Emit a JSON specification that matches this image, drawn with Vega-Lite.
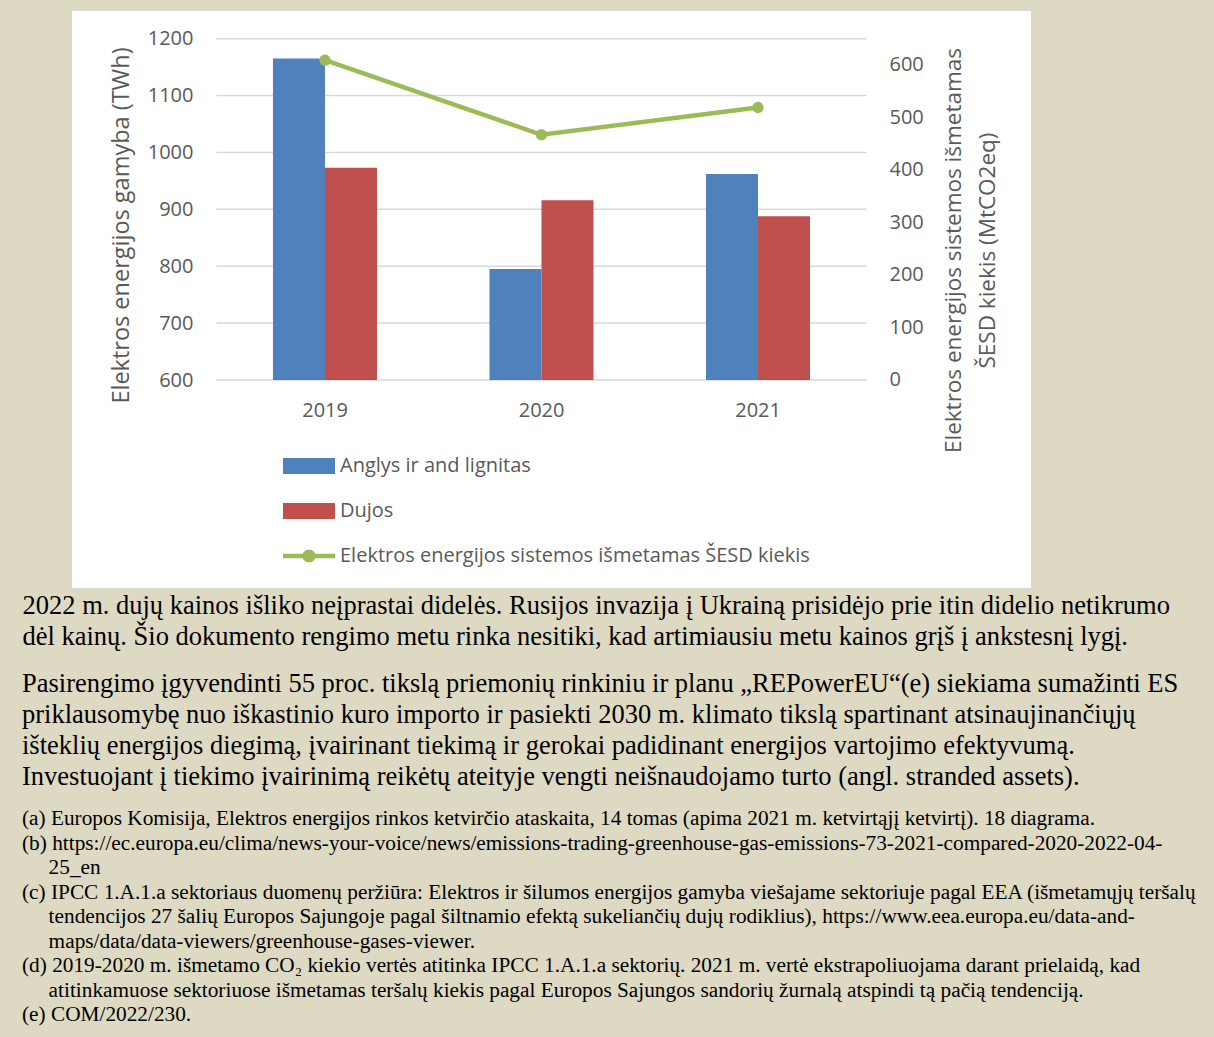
{
  "$schema": "https://vega.github.io/schema/vega-lite/v6.json",
  "width": 960,
  "height": 578,
  "autosize": {"type": "none"},
  "padding": {"left": 71, "top": 10, "right": 183, "bottom": 449},
  "background": "#DDD9C3",
  "config": {
    "view": {"fill": "white", "stroke": "#D9D9D9", "strokeWidth": 1},
    "font": "Open Sans"
  },
  "datasets": {
    "generation": [
      {"year": "2019", "series": "Anglys ir and lignitas", "value": 1165},
      {"year": "2019", "series": "Dujos", "value": 973},
      {"year": "2020", "series": "Anglys ir and lignitas", "value": 795},
      {"year": "2020", "series": "Dujos", "value": 916},
      {"year": "2021", "series": "Anglys ir and lignitas", "value": 962},
      {"year": "2021", "series": "Dujos", "value": 888}
    ],
    "emissions": [
      {"year": "2019", "emissions": 609},
      {"year": "2020", "emissions": 467},
      {"year": "2021", "emissions": 519}
    ],
    "gridlines": [
      {"v": 600}, {"v": 700}, {"v": 800}, {"v": 900}, {"v": 1000}, {"v": 1100}, {"v": 1200}
    ]
  },
  "title": {
    "text": [
      "Pasirengimo įgyvendinti 55 proc. tikslą priemonių rinkiniu ir planu „REPowerEU“(e) siekiama sumažinti ES",
      "priklausomybę nuo iškastinio kuro importo ir pasiekti 2030 m. klimato tikslą spartinant atsinaujinančiųjų",
      "išteklių energijos diegimą, įvairinant tiekimą ir gerokai padidinant energijos vartojimo efektyvumą.",
      "Investuojant į tiekimo įvairinimą reikėtų ateityje vengti neišnaudojamo turto (angl. stranded assets)."
    ],
    "orient": "bottom",
    "anchor": "start",
    "frame": "group",
    "dx": -49,
    "offset": 21,
    "font": "Liberation Serif",
    "fontSize": 26.5,
    "fontWeight": "normal",
    "color": "#000000",
    "lineHeight": 31,
    "subtitle": [
      "(a) Europos Komisija, Elektros energijos rinkos ketvirčio ataskaita, 14 tomas (apima 2021 m. ketvirtąjį ketvirtį). 18 diagrama.",
      "(b) https://ec.europa.eu/clima/news-your-voice/news/emissions-trading-greenhouse-gas-emissions-73-2021-compared-2020-2022-04-",
      "\u200c\u00a0\u00a0\u00a0\u00a0\u00a025_en",
      "(c) IPCC 1.A.1.a sektoriaus duomenų peržiūra: Elektros ir šilumos energijos gamyba viešajame sektoriuje pagal EEA (išmetamųjų teršalų",
      "\u200c\u00a0\u00a0\u00a0\u00a0\u00a0tendencijos 27 šalių Europos Sajungoje pagal šiltnamio efektą sukeliančių dujų rodiklius), https://www.eea.europa.eu/data-and-",
      "\u200c\u00a0\u00a0\u00a0\u00a0\u00a0maps/data/data-viewers/greenhouse-gases-viewer.",
      "(d) 2019-2020 m. išmetamo CO₂ kiekio vertės atitinka IPCC 1.A.1.a sektorių. 2021 m. vertė ekstrapoliuojama darant prielaidą, kad",
      "\u200c\u00a0\u00a0\u00a0\u00a0\u00a0atitinkamuose sektoriuose išmetamas teršalų kiekis pagal Europos Sajungos sandorių žurnalą atspindi tą pačią tendenciją.",
      "(e) COM/2022/230."
    ],
    "subtitleFont": "Liberation Serif",
    "subtitleFontSize": 21.3,
    "subtitleColor": "#000000",
    "subtitleLineHeight": 24.5,
    "subtitlePadding": 18
  },
  "layer": [
    {
      "layer": [
        {
          "data": {"name": "gridlines"},
          "mark": {"type": "rule", "color": "#D9D9D9", "strokeWidth": 1.5},
          "encoding": {
            "y": {"field": "v", "type": "quantitative", "title": "Elektros energijos gamyba (TWh)",
                  "scale": {"domain": [234.4, 1250.4], "nice": false, "zero": false}},
            "x": {"datum": "2019", "bandPosition": -0.5433},
            "x2": {"datum": "2021", "bandPosition": 1.5433}
          }
        },
        {
          "data": {"name": "generation"},
          "mark": {"type": "bar"},
          "encoding": {
            "x": {
              "field": "year", "type": "nominal",
              "scale": {"paddingInner": 0.5196, "paddingOuter": 0.9768, "align": 0.4775},
              "axis": {
                "orient": "bottom", "offset": -208, "domain": false, "ticks": false,
                "bandPosition": 0.5, "labelOffset": 23,
                "labelPadding": 30, "labelFont": "Open Sans", "labelFontSize": 20,
                "labelColor": "#595959", "labelAngle": 0,
                "title": [
                  "2022 m. dujų kainos išliko neįprastai didelės. Rusijos invazija į Ukrainą prisidėjo prie itin didelio netikrumo",
                  "dėl kainų. Šio dokumento rengimo metu rinka nesitiki, kad artimiausiu metu kainos grįš į ankstesnį lygį."
                ],
                "titleFont": "Liberation Serif", "titleFontSize": 26.5, "titleFontWeight": "normal",
                "titleColor": "#000000", "titleLineHeight": 31,
                "titleX": -49, "titleY": 233, "titleAlign": "left",
                "titleBaseline": "alphabetic"
              }
            },
            "xOffset": {
              "field": "series", "type": "nominal",
              "sort": ["Anglys ir and lignitas", "Dujos"],
              "scale": {"paddingInner": 0, "paddingOuter": 0}
            },
            "y": {
              "field": "value", "type": "quantitative",
              "title": "Elektros energijos gamyba (TWh)",
              "scale": {"domain": [234.4, 1250.4], "nice": false, "zero": false},
              "axis": {
                "orient": "left", "values": [600, 700, 800, 900, 1000, 1100, 1200], "format": "d",
                "offset": -124, "labelPadding": 2, "domain": false, "ticks": false, "grid": false,
                "labelFont": "Open Sans", "labelFontSize": 20, "labelColor": "#595959",
                "title": "Elektros energijos gamyba (TWh)",
                "titleFont": "Open Sans", "titleFontSize": 23.5, "titleFontWeight": "normal",
                "titleColor": "#595959", "titleX": -74, "titleY": 215, "titleAngle": 270,
                "titleAlign": "center", "titleBaseline": "middle"
              }
            },
            "y2": {"datum": 600},
            "color": {
              "field": "series", "type": "nominal",
              "scale": {
                "domain": ["Anglys ir and lignitas", "Dujos", "Elektros energijos sistemos išmetamas ŠESD kiekis"],
                "range": ["#4F81BD", "#C0504D", "#9BBB59"]
              },
              "legend": {
                "orient": "none", "legendX": 212, "legendY": 430, "title": null, "padding": 0,
                "symbolSize": 2704, "labelFont": "Open Sans", "labelFontSize": 20,
                "labelColor": "#595959", "labelOffset": 5, "rowPadding": 9, "labelLimit": 0,
                "encode": {
                  "symbols": {
                    "update": {
                      "shape": {"signal": "datum.value == 'Elektros energijos sistemos išmetamas ŠESD kiekis' ? 'M-1,-0.087H1V0.087H-1Z M-0.25,0A0.25,0.25,0,1,1,0.25,0A0.25,0.25,0,1,1,-0.25,0Z' : 'M-1,-0.31H1V0.31H-1Z'"},
                      "fill": {"scale": "color", "field": "value"},
                      "fillOpacity": {"value": 1},
                      "opacity": {"value": 1},
                      "strokeWidth": {"value": 0}
                    }
                  }
                }
              }
            }
          }
        }
      ]
    },
    {
      "data": {"name": "emissions"},
      "mark": {"type": "line", "strokeWidth": 4.5, "point": {"filled": true, "size": 130}},
      "encoding": {
        "x": {"field": "year", "type": "nominal"},
        "y": {
          "field": "emissions", "type": "quantitative",
          "scale": {"domain": [-396.1, 704.6], "nice": false, "zero": false},
          "axis": {
            "orient": "right", "values": [0, 100, 200, 300, 400, 500, 600],
            "offset": -144, "labelPadding": 2, "domain": false, "ticks": false, "grid": false,
            "labelFont": "Open Sans", "labelFontSize": 20, "labelColor": "#595959",
            "title": ["Elektros energijos sistemos išmetamas", "ŠESD kiekis (MtCO2eq)"],
            "titleFont": "Open Sans", "titleFontSize": 22.5, "titleFontWeight": "normal",
            "titleColor": "#595959", "titleLineHeight": 34, "titleX": 66, "titleY": 240,
            "titleAngle": 270, "titleAlign": "center", "titleBaseline": "middle"
          }
        },
        "color": {"datum": "Elektros energijos sistemos išmetamas ŠESD kiekis", "type": "nominal", "legend": null}
      }
    }
  ],
  "resolve": {"scale": {"y": "independent"}}
}
